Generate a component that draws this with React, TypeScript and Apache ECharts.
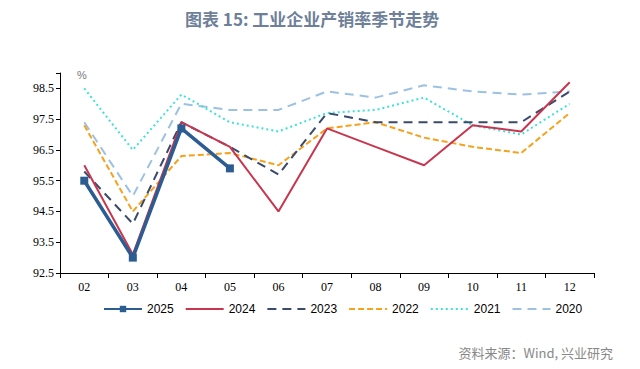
import React, { useEffect, useRef } from "react";
import * as echarts from "echarts";

const categories = ["02", "03", "04", "05", "06", "07", "08", "09", "10", "11", "12"];
const s2025 = [95.5, 93.0, 97.2, 95.9, null, null, null, null, null, null, null];
const s2024 = [96.0, 93.1, 97.4, 96.6, 94.5, 97.2, 96.6, 96.0, 97.3, 97.1, 98.7];
const s2023 = [95.8, 94.1, 97.4, 96.6, 95.7, 97.7, 97.4, 97.4, 97.4, 97.4, 98.4];
const s2022 = [97.3, 94.5, 96.3, 96.4, 96.0, 97.2, 97.4, 96.9, 96.6, 96.4, 97.7];
const s2021 = [98.5, 96.5, 98.3, 97.4, 97.1, 97.7, 97.8, 98.2, 97.3, 97.0, 98.0];
const s2020 = [97.4, 95.0, 98.0, 97.8, 97.8, 98.4, 98.2, 98.6, 98.4, 98.3, 98.4];
const legendNames = ["2025", "2024", "2023", "2022", "2021", "2020"];
const yMin = 92.5;
const yMax = 99;

export default function App() {
  const ref = useRef<HTMLDivElement>(null);
  useEffect(() => {
    if (!ref.current) return;
    const chart = echarts.init(ref.current, null, { renderer: "svg" });
    const line = (name: string, data: any[], color: string, width: number, type: any, extra: any = {}) => ({
      name,
      type: "line",
      data,
      symbol: "none",
      lineStyle: { color, width, type },
      itemStyle: { color },
      z: 2,
      ...extra,
    });
    chart.setOption({
      animation: false,
      title: {
        text: "图表 15: 工业企业产销率季节走势",
        left: 180,
        top: 5,
        textStyle: { color: "#6e7f99", fontSize: 17, fontWeight: "bold", fontFamily: "Noto Sans CJK SC" },
      },
      grid: { left: 60, right: 46, top: 73, bottom: 96 },
      legend: {
        bottom: 49,
        left: 98,
        itemWidth: 38,
        itemHeight: 8,
        itemGap: 11,
        textStyle: { fontSize: 12, color: "#000", fontFamily: "Liberation Sans" },
        data: legendNames.map((n) => (n === "2025" ? { name: n } : { name: n, itemStyle: { opacity: 0 } })),
      },
      graphic: [
        {
          type: "text",
          left: 77,
          top: 69,
          style: { text: "%", fontSize: 11, fill: "#777", fontFamily: "Liberation Sans" },
        },
        {
          type: "text",
          right: 27,
          top: 346,
          style: { text: "资料来源：Wind, 兴业研究", fontSize: 13, fill: "#888", fontFamily: "Noto Sans CJK SC" },
        },
      ],
      xAxis: {
        type: "category",
        data: categories,
        boundaryGap: true,
        axisLine: { lineStyle: { color: "#000", width: 1 } },
        axisTick: { show: true, length: 5, lineStyle: { color: "#000" } },
        axisLabel: { color: "#000", fontSize: 12, fontFamily: "Liberation Serif", margin: 8 },
      },
      yAxis: {
        type: "value",
        min: yMin,
        max: yMax,
        interval: 1,
        splitLine: { show: false },
        axisLine: { show: true, lineStyle: { color: "#000", width: 1 } },
        axisTick: { show: true, length: 4, lineStyle: { color: "#000" } },
        axisLabel: {
          color: "#000",
          fontSize: 12,
          fontFamily: "Liberation Serif",
          margin: 6,
          formatter: (v: number) => (v > 98.9 ? "" : v.toFixed(1)),
        },
      },
      series: [
        line("2020", s2020, "#9dc1e3", 2, [9, 6]),
        line("2021", s2021, "#3fe0db", 2, [2, 3]),
        line("2022", s2022, "#f5a21c", 2, [6, 3]),
        line("2023", s2023, "#3a4a6b", 2, [9, 6]),
        line("2024", s2024, "#c8354f", 2, "solid"),
        line("2025", s2025, "#2b5d93", 3.5, "solid", { symbol: "rect", symbolSize: 8, showSymbol: true, z: 3 }),
      ],
    });
    return () => chart.dispose();
  }, []);
  return <div ref={ref} style={{ width: 640, height: 369, margin: -8 }} />;
}
